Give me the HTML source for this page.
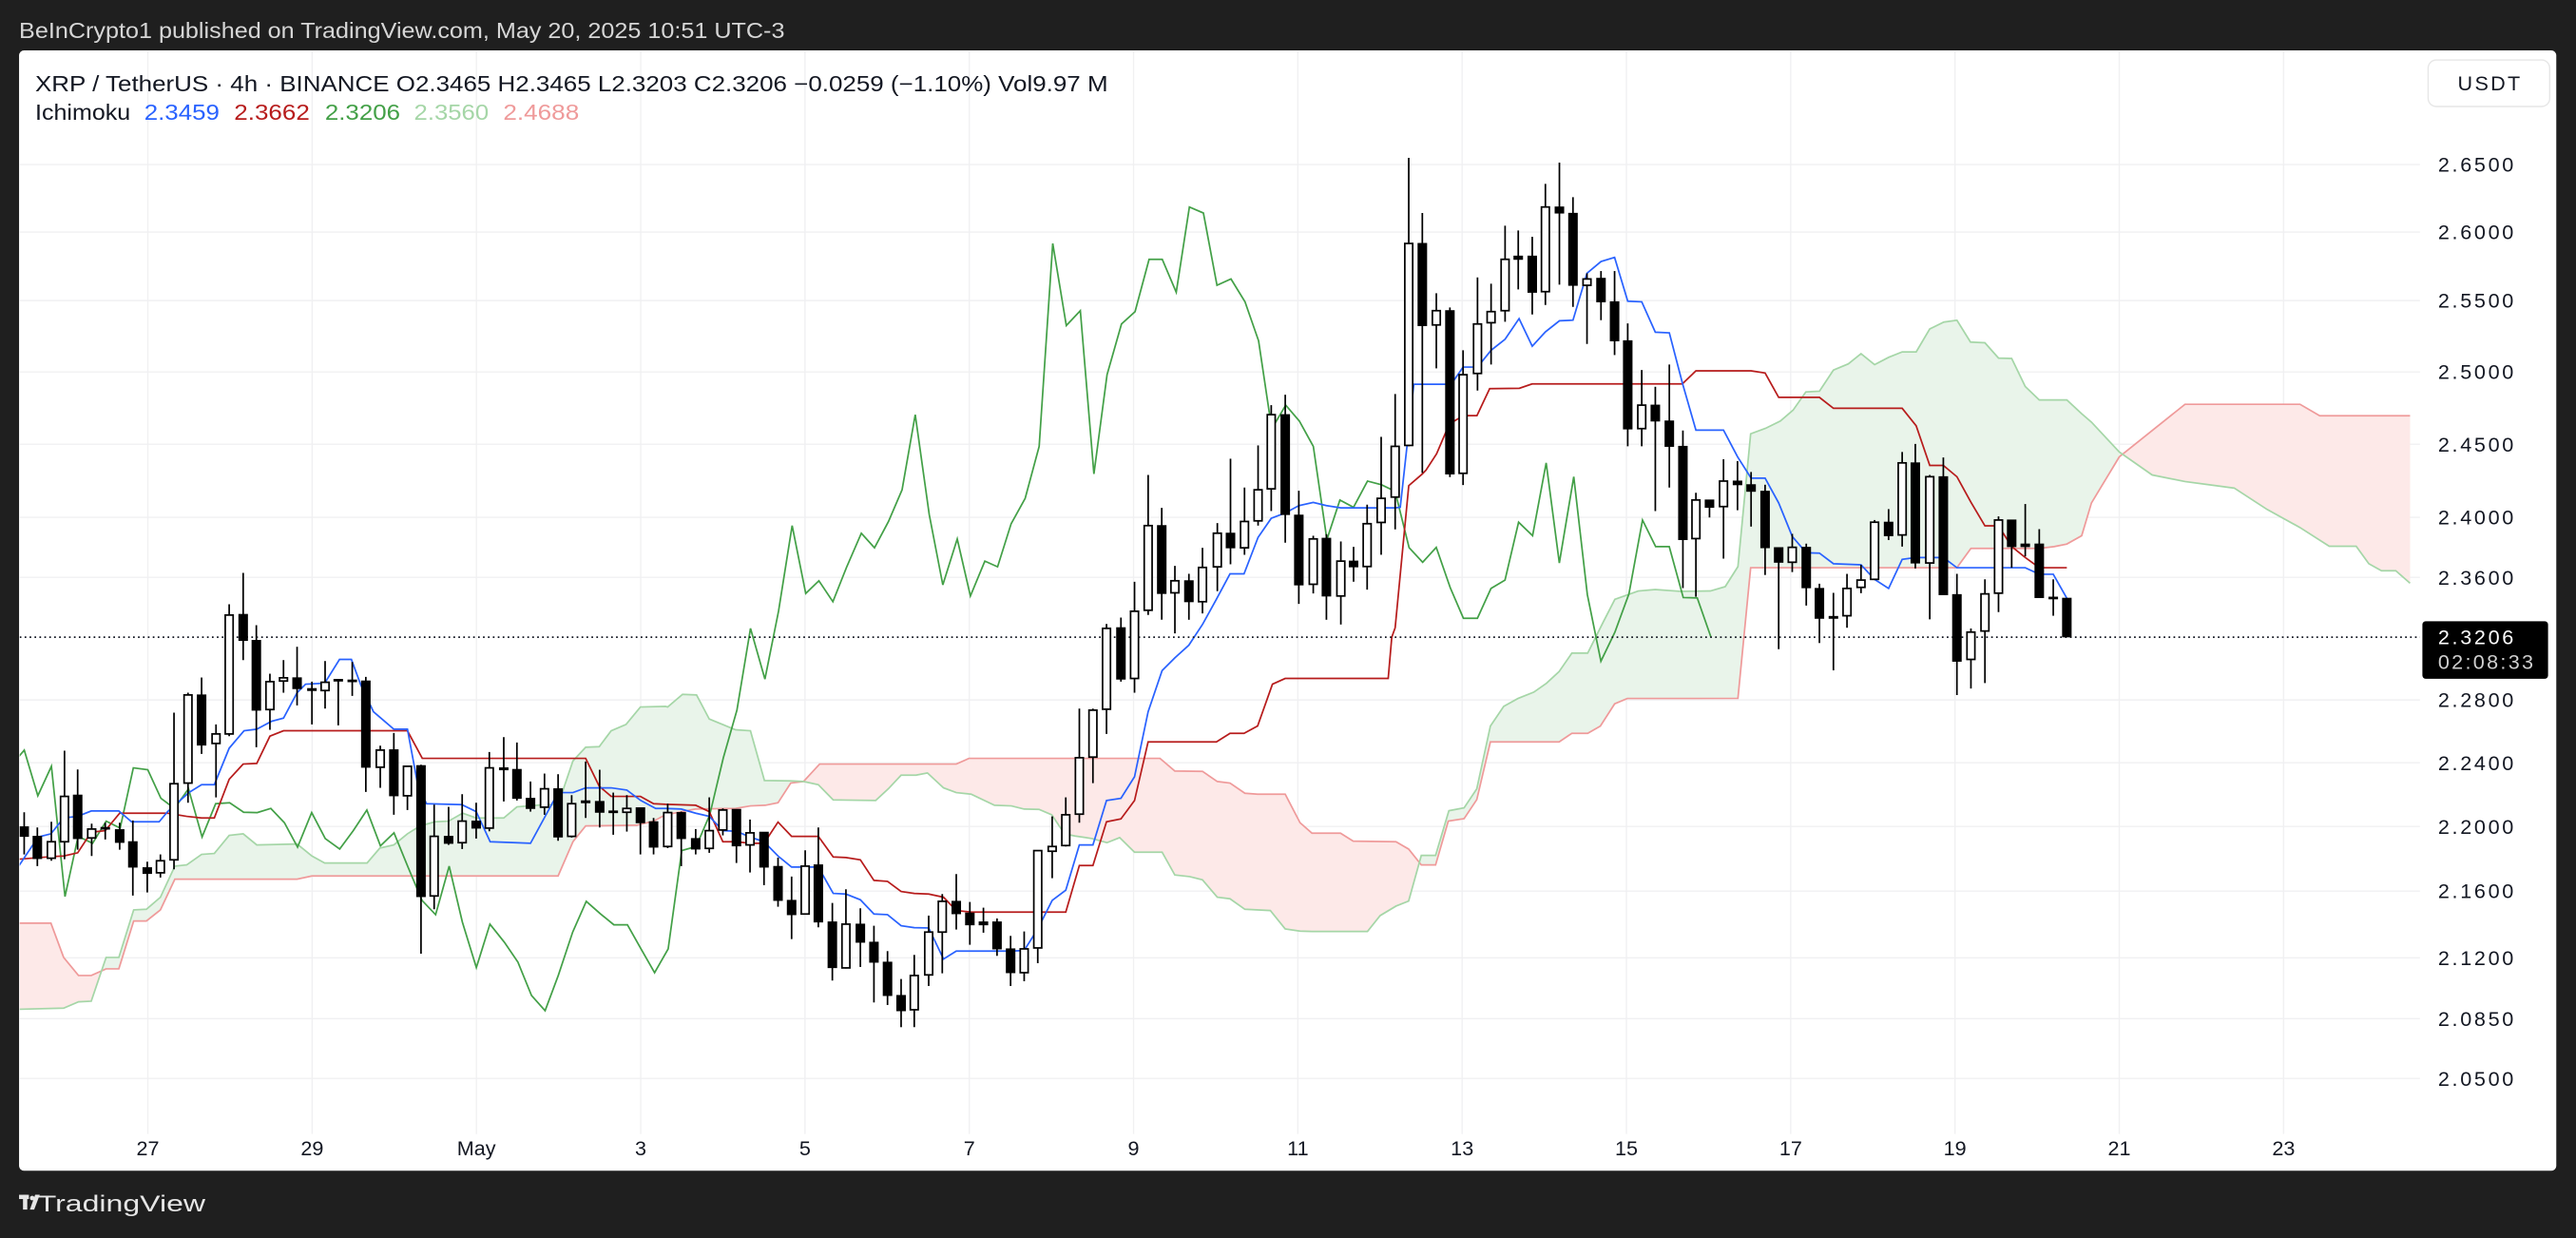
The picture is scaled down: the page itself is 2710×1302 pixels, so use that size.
<!DOCTYPE html>
<html><head><meta charset="utf-8"><style>
html,body{margin:0;padding:0;background:#1f1f1f;width:2710px;height:1302px;overflow:hidden}
svg{display:block}
text{font-family:"Liberation Sans",sans-serif}
</style></head><body>
<svg id="s" width="2710" height="1302" viewBox="0 0 1568 753.3" preserveAspectRatio="none" xmlns="http://www.w3.org/2000/svg">
<rect x="0" y="0" width="1568" height="753.3" fill="#1f1f1f"/>
<text x="11.6" y="23" font-size="13.2" fill="#d6d6d6" textLength="466" lengthAdjust="spacingAndGlyphs">BeInCrypto1 published on TradingView.com, May 20, 2025 10:51 UTC-3</text>
<rect x="11.6" y="30.7" width="1544.4" height="681.7" rx="3" fill="#ffffff"/>
<g id="grid"></g>
<defs><clipPath id="cp"><rect x="12" y="31" width="1461" height="659"/></clipPath></defs>
<g id="plot" clip-path="url(#cp)"></g>
<g id="axis"></g>
<text x="21.4" y="55.5" font-size="13.2" fill="#131722" textLength="653" lengthAdjust="spacingAndGlyphs">XRP / TetherUS · 4h · BINANCE  O2.3465  H2.3465  L2.3203  C2.3206  −0.0259 (−1.10%)  Vol9.97 M</text>
<text x="21.4" y="73" font-size="13.2" fill="#131722" textLength="58" lengthAdjust="spacingAndGlyphs">Ichimoku</text>
<text x="87.8" y="73" font-size="13.2" fill="#2962ff" textLength="45.8" lengthAdjust="spacingAndGlyphs">2.3459</text>
<text x="142.5" y="73" font-size="13.2" fill="#b71c1c" textLength="46" lengthAdjust="spacingAndGlyphs">2.3662</text>
<text x="197.8" y="73" font-size="13.2" fill="#43a047" textLength="45.8" lengthAdjust="spacingAndGlyphs">2.3206</text>
<text x="252" y="73" font-size="13.2" fill="#a5d6a7" textLength="45.5" lengthAdjust="spacingAndGlyphs">2.3560</text>
<text x="306.3" y="73" font-size="13.2" fill="#ef9a9a" textLength="46.2" lengthAdjust="spacingAndGlyphs">2.4688</text>
<rect x="1478" y="36.5" width="74" height="28.3" rx="5" fill="#fff" stroke="#e6e6e6" stroke-width="0.8"/>
<text x="1515" y="55" font-size="12.5" fill="#131722" text-anchor="middle" textLength="38" lengthAdjust="spacing">USDT</text>
<rect x="1474.5" y="378" width="76.5" height="35" rx="2" fill="#000"/>
<text x="1484" y="392" font-size="12.5" fill="#fff" textLength="46" lengthAdjust="spacing">2.3206</text>
<text x="1484" y="407" font-size="12.5" fill="#d0d0d0" textLength="58" lengthAdjust="spacing">02:08:33</text>
<g transform="translate(11.6,727)" fill="#e6e6e6">
<rect x="0" y="0" width="6" height="2.6"/><rect x="2.4" y="0" width="2.6" height="9"/>
<circle cx="8" cy="2" r="1.4"/><path d="M9.8 0 L12.6 0 L9.2 9 L6.6 9 Z"/>
</g>
<text x="23" y="737" font-size="14" fill="#e6e6e6" textLength="102" lengthAdjust="spacingAndGlyphs">TradingView</text>
</svg>
<script>
(function(){
var NS="http://www.w3.org/2000/svg";
function el(p,t,a){var e=document.createElementNS(NS,t);for(var k in a)e.setAttribute(k,a[k]);p.appendChild(e);return e;}
var grid=document.getElementById('grid'),plot=document.getElementById('plot'),axis=document.getElementById('axis');
var P=[["2.6500",100.1],["2.6000",141.2],["2.5500",182.9],["2.5000",226.3],["2.4500",270.3],["2.4000",314.8],["2.3600",351.3],["2.2800",425.9],["2.2400",464.1],["2.2000",502.9],["2.1600",542.2],["2.1200",582.8],["2.0850",619.8],["2.0500",656.2]];
P.forEach(function(p){el(grid,'line',{x1:12,x2:1473,y1:p[1],y2:p[1],stroke:'#f0f0f2','stroke-width':0.8});
var t=el(axis,'text',{x:1484,y:p[1]+4.4,'font-size':12.5,fill:'#131722',textLength:46,lengthAdjust:'spacing'});t.textContent=p[0];});
var D=["27","29","May","3","5","7","9","11","13","15","17","19","21","23"];
D.forEach(function(d,i){var x=90+100*i;el(grid,'line',{x1:x,x2:x,y1:31,y2:690,stroke:'#f0f0f2','stroke-width':0.8});
var t=el(axis,'text',{x:x,y:703,'font-size':12.5,fill:'#131722','text-anchor':'middle'});t.textContent=d;});
function T(z){var m={4:[0,324.1,5.184],5:[393.5,324.1,5.184],6:[625,86.8,5.184],7:[868,86.8,4.516]}[z];
return function(zx,zy){return [m[0]+zx/3.871, m[1]+zy/m[2]];};}
function T8(zx,zy){return [798.6+zx/5.184,376.2+zy/5.184];}
function conv(z,arr){var f=T(z);return arr.map(function(p){return f(p[0],p[1]);});}
function conv8(arr){return arr.map(function(p){return T8(p[0],p[1]);});}
var C4=[[57,928,958,882,1015,0],[88,958,1028,930,1052,0],[121,975,1027,912,1035,1],[152,832,975,688,1030,1],[183,828,965,747,1000,0],[216,935,963,918,1020,1],[248,930,935,915,968,0],[282,937,977,915,1000,0],[313,975,1055,908,1145,0],[347,1057,1075,1038,1135,0],[378,1035,1073,1015,1088,1],[410,792,1032,568,1062,1],[443,512,790,505,852,1],[475,512,670,457,698,0],[509,635,665,605,835,1],[540,260,635,226,642,1],[573,258,340,127,402,0],[604,340,560,292,677,0],[636,470,558,445,622,1],[668,458,468,402,505,1],[700,458,492,360,545,0],[735,492,498,470,605,0],[766,472,498,405,555,1],[797,463,467,463,608,0],[830,465,469,408,515,0],[862,468,740,455,818,0],[896,686,740,672,805,1],[928,685,830,632,890,0],[960,737,830,737,875,1],[992,735,1148,732,1328,0],[1023,958,1146,858,1188,1],[1057,958,980,865,985,0],[1089,910,978,825,998,1],[1122,910,932,852,965,0],[1153,742,932,692,942,1],[1187,742,748,645,848,0],[1218,747,838,662,845,0],[1250,838,870,785,880,0],[1283,808,866,760,890,1],[1315,808,960,762,972,0],[1347,855,958,828,962,1],[1380,846,852,722,900,0],[1413,848,882,748,930,0],[1445,878,883,820,953,0],[1477,870,882,828,943,1],[1509,868,915,868,1015,0],[1540,912,992,900,1015,0]];
var C5=[[50,883,990,855,995,1],[82,883,965,880,1052,0],[116,965,998,935,1015,0],[148,940,996,835,1010,1],[180,875,938,870,955,1],[212,873,988,873,1042,0],[244,947,985,905,1072,1],[277,945,1055,945,1112,0],[310,1053,1160,1025,1180,0],[342,1160,1205,1085,1282,0],[374,1052,1203,1002,1205,1],[405,1048,1228,930,1245,0],[438,1228,1372,1168,1413,0],[470,1235,1373,1125,1375,1],[504,1235,1292,1185,1370,0],[536,1292,1355,1240,1482,0],[568,1355,1460,1320,1490,0],[600,1460,1508,1408,1560,0],[631,1397,1505,1332,1560,1],[665,1260,1395,1208,1430,1],[697,1163,1260,1140,1390,1],[730,1163,1202,1077,1252,0],[762,1200,1237,1165,1300,0],[794,1228,1237,1183,1262,0],[826,1228,1313,1217,1335,0],[858,1313,1388,1272,1430,0],[890,1313,1388,1258,1415,1],[922,1003,1310,1003,1358,1],[956,990,1005,895,1090,1],[988,890,987,835,990,1],[1020,710,888,555,915,1],[1052,560,708,555,790,1],[1084,302,557,288,635,1],[1118,300,462,268,470,0],[1150,248,460,155,505,1]];
var C6=[[286,1208,1475,1048,1490,1],[318,1208,1422,1152,1505,0],[349,1382,1420,1335,1548,1],[382,1382,1448,1360,1505,0],[414,1340,1448,1278,1485,1],[449,1232,1338,1200,1415,1],[480,1232,1278,997,1330,0],[513,1195,1278,1088,1300,1],[545,1095,1193,955,1208,1],[576,858,1092,828,1162,1],[609,858,1173,795,1262,0],[641,1175,1395,1098,1455,0],[675,1250,1393,1240,1422,1],[706,1248,1430,1235,1505,0],[740,1320,1430,1258,1520,1],[770,1320,1338,1275,1385,0],[802,1202,1337,1142,1410,1],[835,1122,1198,928,1300,1],[868,958,1118,793,1220,1],[900,318,955,48,958,1],[932,318,577,222,1042,0],[965,530,575,475,712,1],[997,530,1045,520,1055,0],[1028,732,1043,655,1080,1],[1062,572,728,425,782,1],[1094,533,568,445,700,1],[1127,368,530,262,565,1],[1158,358,368,277,463,0],[1191,358,472,297,542,0],[1222,203,470,130,512,1],[1255,203,222,63,448,0],[1287,223,450,172,518,0],[1320,430,450,412,635,1],[1353,428,502,405,560,0],[1385,502,625,405,670,0],[1416,625,903,570,958,0],[1449,828,902,717,958,1],[1481,828,878,770,1162,0],[1514,878,958,700,1088,0],[1546,958,1252,908,1405,0]];
var C7=[[636,982,1088,962,1248,1],[668,982,1002,982,1030,0],[701,930,1000,870,1143,1],[734,930,940,875,1010,0],[766,940,958,905,1055,0],[799,958,1113,940,1188,0],[831,1113,1153,1113,1392,0],[863,1112,1153,1075,1180,1],[896,1112,1223,1102,1272,0],[927,1225,1307,1212,1375,0],[960,1302,1307,1237,1450,0],[992,1225,1300,1185,1333,1],[1025,1202,1222,1160,1238,1],[1057,1043,1200,1037,1202,1],[1090,1043,1080,1007,1092,0],[1122,880,1078,850,1110,1],[1153,880,1155,828,1170,0],[1187,918,1155,913,1310,1],[1219,918,1242,865,1242,0],[1251,1242,1425,1185,1518,0],[1284,1345,1420,1335,1500,1],[1317,1240,1342,1200,1485,1],[1349,1037,1238,1027,1290,1],[1380,1037,1110,1037,1168,0],[1412,1103,1110,993,1137,0],[1445,1103,1250,1062,1250,0],[1478,1249,1251,1200,1300,0],[1510,1252,1358,1252,1358,0]];
var candles=[];
[[4,C4],[5,C5],[6,C6],[7,C7]].forEach(function(g){var f=T(g[0]);g[1].forEach(function(c){var a=f(c[0],c[1]),b=f(c[0],c[2]),wt=f(c[0],c[3]),wb=f(c[0],c[4]);
candles.push({x:a[0],top:a[1],bot:b[1],wt:Math.min(wt[1],a[1]),wb:Math.max(wb[1],b[1]),w:c[5]});});});
function pts(a){return a.map(function(p){return p[0].toFixed(2)+','+p[1].toFixed(2);}).join(' ');}
var blue=conv(4,[[45,1050],[65,1010],[90,960],[120,950],[150,900],[183,895],[215,878],[280,878],[310,912],[375,912],[395,880],[420,850],[445,820],[475,795],[505,795],[540,680],[575,625],[605,620],[640,595],[668,585],[700,505],[720,478],[765,475],[800,400],[828,400],[850,480],[880,565],[928,620],[960,620],[985,800],[1005,855],[1088,858],[1122,880],[1155,975],[1215,978],[1250,980],[1315,820],[1350,820],[1380,805],[1440,805],[1477,812],[1510,845],[1545,870],[1568,870]])
.concat(conv(5,[[82,872],[116,885],[148,895],[180,940],[212,942],[244,960],[277,975],[310,1020],[342,1055],[405,1055],[440,1138],[470,1140],[504,1158],[536,1203],[568,1205],[600,1240],[631,1246],[665,1247],[700,1345],[730,1320],[858,1320],[890,1318],[922,1250],[956,1160],[988,1128],[1020,985],[1052,985],[1084,845],[1118,838],[1150,770],[1182,565],[1215,435],[1245,395],[1278,355],[1310,290],[1343,210],[1375,130],[1408,130]]))
.concat(conv(6,[[545,1245],[576,1185],[609,1168],[641,1145],[675,1135],[706,1145],[740,1152],[868,1152],[880,1150],[912,762],[1000,762],[1028,708],[1062,708],[1094,655],[1127,620],[1160,555],[1191,642],[1222,597],[1255,562],[1287,560],[1320,412],[1353,375],[1385,362],[1416,500],[1449,502],[1481,598],[1514,600]]))
.concat(conv(7,[[604,660],[636,790],[701,790],[734,863],[766,922],[799,922],[831,990],[863,1082],[896,1127],[927,1128],[960,1157],[1025,1160],[1057,1200],[1090,1225],[1122,1145],[1153,1140],[1219,1140],[1251,1168],[1412,1168],[1445,1186],[1478,1186],[1510,1252]]));
var red=conv(4,[[45,1030],[120,1022],[150,1020],[183,1010],[215,945],[248,940],[282,885],[395,885],[440,895],[475,900],[505,900],[540,778],[573,730],[605,728],[636,642],[668,625],[960,625],[995,712],[1380,712],[1412,800],[1440,832],[1509,832],[1540,855],[1568,857]])
.concat(conv(5,[[116,860],[148,880],[180,975],[212,975],[244,980],[277,980],[310,913],[342,958],[405,958],[440,1023],[470,1025],[504,1032],[536,1097],[568,1100],[600,1132],[631,1138],[665,1140],[700,1150],[730,1192],[765,1197],[988,1197],[1020,1050],[1052,1050],[1084,912],[1118,903],[1150,845],[1182,660],[1343,660],[1375,633],[1408,633],[1440,610],[1475,478],[1505,460],[1568,460]]))
.concat([[845,412.8]])
.concat(conv(6,[[860,1560],[868,1530],[900,1082],[932,1045]]))
.concat(conv(7,[[0,900],[25,855],[55,773],[88,750],[120,750],[150,676],[220,675],[250,663],[604,663],[636,627],[766,627],[799,633],[831,700],[927,700],[960,730],[1122,730],[1155,778],[1187,887],[1219,887],[1251,918],[1284,988],[1317,1053],[1349,1053],[1380,1110],[1412,1140],[1445,1168],[1510,1168]]));
var spanA=conv(4,[[0,1505],[150,1500],[185,1480],[215,1478],[250,1340],[280,1340],[315,1190],[345,1188],[378,1150],[412,1052],[440,1048],[475,1015],[505,1012],[540,955],[573,950],[605,985],[700,982],[735,1020],[765,1042],[865,1042],[895,995],[928,985],[960,950],[990,925],[1025,912],[1057,910],[1090,885],[1122,900],[1187,900],[1218,865],[1283,858],[1315,858],[1350,720],[1380,677],[1412,675],[1440,625],[1475,605],[1509,550],[1568,548]])
.concat(conv(5,[[50,550],[85,510],[118,512],[148,588],[210,622],[245,625],[278,782],[340,783],[370,785],[405,795],[440,843],[540,845],[570,808],[600,765],[635,765],[662,758],[700,805],[730,820],[765,825],[820,860],[860,862],[890,872],[925,873],[955,890],[985,950],[1010,957],[1050,965],[1085,978],[1115,962],[1150,1008],[1215,1008],[1245,1080],[1280,1085],[1310,1095],[1345,1150],[1375,1155],[1410,1188],[1470,1192],[1505,1250],[1540,1257]]))
.concat(conv8([[0,988],[175,988],[215,938],[265,908],[305,892],[345,748],[390,748],[432,607],[480,598],[520,538],[563,340],[605,278],[650,253],[700,233],[740,205],[780,168],[820,110],[870,110],[920,10]]))
.concat(conv(7,[[445,1255],[500,1232],[540,1228],[600,1233],[670,1232],[705,1220],[735,1165],[765,800],[800,785],[835,765],[865,735],[895,685],[927,683],[960,625],[995,608],[1025,580],[1057,610],[1090,590],[1122,575],[1155,575],[1187,512],[1220,493],[1251,488],[1283,548],[1317,550],[1349,592],[1380,593],[1412,670],[1445,707],[1510,707],[1545,745],[1568,768]]))
.concat([[1290,275],[1310,289],[1330,293],[1360,297],[1380,310],[1400,321],[1417.8,332.4],[1434.2,332.4],[1441.9,343],[1449.6,347.3],[1458.3,347.3],[1467,354.9]]);
var spanB=conv(4,[[0,1232],[120,1232],[150,1340],[185,1397],[215,1397],[250,1376],[280,1376],[315,1225],[345,1225],[378,1190],[412,1093],[700,1093],[735,1083],[1315,1083],[1350,975],[1380,925],[1500,923],[1540,910],[1568,890]])
.concat(conv(5,[[115,872],[210,870],[245,862],[280,860],[310,852],[340,790],[370,785],[408,730],[730,730],[760,712],[1210,712],[1245,752],[1310,753],[1345,785],[1375,790],[1410,822],[1440,825],[1505,825],[1540,915]]))
.concat(conv8([[0,678],[90,678],[130,703],[265,705],[305,728],[345,778],[390,778],[430,640],[480,632],[520,572],[563,390],[780,390],[820,363],[870,363],[910,340],[955,270],[995,253],[1200,253]]))
.concat(conv(7,[[735,1527],[765,1168],[1251,1168],[1284,1115],[1445,1115],[1480,1110],[1510,1103],[1545,1080],[1568,990]]))
.concat([[1290,278],[1310,262],[1330,246],[1400,246],[1412,253],[1467,253]]);
function interp(a,x){if(x<=a[0][0])return a[0][1];for(var i=1;i<a.length;i++){if(x<=a[i][0]){var t=(x-a[i-1][0])/((a[i][0]-a[i-1][0])||1);return a[i-1][1]+t*(a[i][1]-a[i-1][1]);}}return a[a.length-1][1];}
var runs=[],cur=null;
for(var x=0;x<=1467;x+=0.5){var ya=interp(spanA,x),yb=interp(spanB,x),g=ya<=yb;
if(!cur||cur.g!==g){if(cur){cur.A.push([x,ya]);cur.B.push([x,yb]);}cur={g:g,A:[],B:[]};runs.push(cur);}
cur.A.push([x,ya]);cur.B.push([x,yb]);}
runs.forEach(function(r){el(plot,'polygon',{points:pts(r.A.concat(r.B.slice().reverse())),fill:r.g?'#e9f4ea':'#fde9e8',stroke:'none'});});
el(plot,'polyline',{points:pts(spanB),fill:'none',stroke:'#ef9a9a','stroke-width':1});
el(plot,'polyline',{points:pts(spanA),fill:'none',stroke:'#a5d6a7','stroke-width':1});
var lag=candles.map(function(c){return [c.x-216.7,c.w?c.top:c.bot];});
el(plot,'polyline',{points:pts(lag),fill:'none',stroke:'#43a047','stroke-width':1});
el(plot,'polyline',{points:pts(red),fill:'none',stroke:'#b71c1c','stroke-width':1});
el(plot,'polyline',{points:pts(blue),fill:'none',stroke:'#2962ff','stroke-width':1});
el(plot,'line',{x1:12,x2:1475,y1:387.7,y2:387.7,stroke:'#131722','stroke-width':1,'stroke-dasharray':'1 2'});
candles.forEach(function(c){
el(plot,'line',{x1:c.x,x2:c.x,y1:c.wt,y2:c.wb,stroke:'#000','stroke-width':1});
var h=Math.max(c.bot-c.top,1);
if(c.w){el(plot,'rect',{x:c.x-2.4,y:c.top,width:4.8,height:h,fill:'#fff',stroke:'#000','stroke-width':1});}
else{el(plot,'rect',{x:c.x-2.9,y:c.top-0.3,width:5.8,height:h+0.6,fill:'#000'});}
});
})();
</script>
</body></html>
